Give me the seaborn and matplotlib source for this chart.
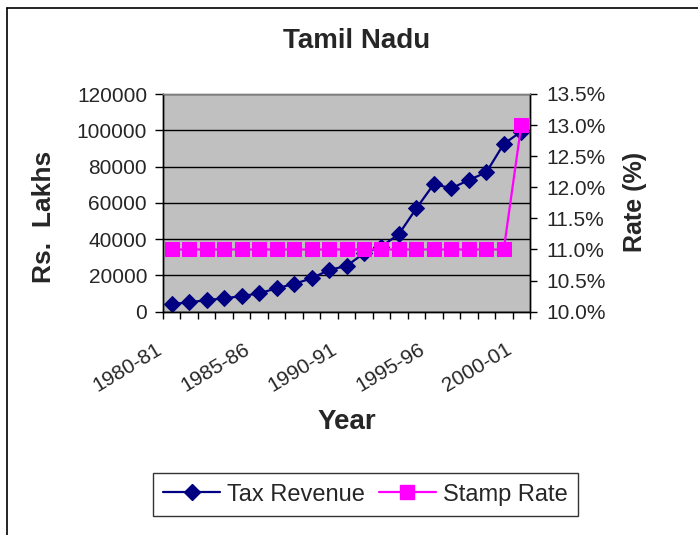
import pandas as pd
import seaborn as sns
import matplotlib.pyplot as plt
from matplotlib.lines import Line2D
from matplotlib.transforms import ScaledTranslation
from matplotlib.ticker import FixedLocator, MultipleLocator, FuncFormatter

years = ['1980-81', '1981-82', '1982-83', '1983-84', '1984-85', '1985-86',
         '1986-87', '1987-88', '1988-89', '1989-90', '1990-91', '1991-92',
         '1992-93', '1993-94', '1994-95', '1995-96', '1996-97', '1997-98',
         '1998-99', '1999-00', '2000-01']
tax_revenue = [4200, 5150, 6400, 7350, 8600, 10100, 12900, 15300, 18400, 23000,
               25200, 32200, 35900, 42800, 57000, 70400, 68000, 72600, 76800,
               92500, 99300]
stamp_rate = [11.0, 11.0, 11.0, 11.0, 11.0, 11.0, 11.0, 11.0, 11.0, 11.0, 11.0,
              11.0, 11.0, 11.0, 11.0, 11.0, 11.0, 11.0, 11.0, 11.0, 13.0]

df = pd.DataFrame({'pos': range(len(years)), 'Year': years,
                   'Tax Revenue': tax_revenue, 'Stamp Rate': stamp_rate})

sns.set_style('white')
plt.rcParams['font.family'] = ['Liberation Sans', 'DejaVu Sans']

fig = plt.figure(figsize=(6.98, 5.35), dpi=100)
ax = fig.add_axes([163/698, 1 - 311.7/535, 367/698, 217.7/535])
ax.set_facecolor('#C0C0C0')

sns.lineplot(data=df, x='pos', y='Tax Revenue', ax=ax, color='#000080',
             marker='D', markersize=8, linewidth=1.6, markeredgecolor='#000080',
             label='Tax Revenue', legend=False)
ax2 = ax.twinx()
sns.lineplot(data=df, x='pos', y='Stamp Rate', ax=ax2, color='#FF00FF',
             marker='s', markersize=9.5, linewidth=1.6, markeredgecolor='#FF00FF',
             label='Stamp Rate', legend=False)

ax.set_xlim(-0.5, len(years) - 0.5)
ax.set_ylim(0, 120000)
ax.yaxis.set_major_locator(MultipleLocator(20000))
ax.grid(axis='y', color='black', linewidth=1)
ax.grid(axis='x', visible=False)
ax.set_axisbelow(True)

ax2.set_ylim(10.0, 13.5)
ax2.yaxis.set_major_locator(MultipleLocator(0.5))
ax2.yaxis.set_major_formatter(FuncFormatter(lambda v, p: f'{v:.1f}%'))
ax2.grid(False)

# category labels every 5th year, ticks between categories
ax.xaxis.set_major_locator(FixedLocator(range(0, len(years), 5)))
ax.set_xticklabels(years[::5])
ax.xaxis.set_minor_locator(FixedLocator([i - 0.5 for i in range(len(years) + 1)]))
ax.tick_params(axis='x', which='major', length=0, pad=20, labelsize=15)
ax.tick_params(axis='x', which='minor', bottom=True, length=5, width=1, color='black', direction='out')
shift = ScaledTranslation(-0.16, 0, fig.dpi_scale_trans)
for lbl in ax.get_xticklabels():
    lbl.set_rotation(31)
    lbl.set_ha('right')
    lbl.set_rotation_mode('anchor')
    lbl.set_transform(lbl.get_transform() + shift)

ax.tick_params(axis='y', left=True, length=6, width=1, color='black',
               direction='out', pad=5.5, labelsize=15)
ax2.tick_params(axis='y', right=True, length=5, width=1, color='black',
                direction='out', pad=7, labelsize=15)

for a in (ax, ax2):
    a.set_xlabel('')
    a.set_ylabel('')
    for side in ('left', 'bottom', 'right'):
        a.spines[side].set_color('black')
        a.spines[side].set_linewidth(1)
    a.spines['top'].set_color('#808080')
    a.spines['top'].set_linewidth(1)

fig.text(357/698, 1 - 41/535, 'Tamil Nadu', ha='center', va='center',
         fontsize=20, fontweight='bold')
fig.text(44/698, 1 - 217/535, 'Rs.  Lakhs', ha='center', va='center',
         rotation=90, fontsize=19, fontweight='bold')
fig.text(635/698, 1 - 202/535, 'Rate (%)', ha='center', va='center',
         rotation=90, fontsize=18, fontweight='bold')
fig.text(347/698, 1 - 422/535, 'Year', ha='center', va='center',
         fontsize=20, fontweight='bold')

handles = [Line2D([], [], color='#000080', marker='D', markersize=8, linewidth=1.6),
           Line2D([], [], color='#FF00FF', marker='s', markersize=9.5, linewidth=1.6)]
leg = fig.legend(handles, ['Tax Revenue', 'Stamp Rate'], loc='center',
                 bbox_to_anchor=(365.5/698, 1 - 494.7/535), ncol=2, fontsize=17,
                 frameon=True, fancybox=False, shadow=False, edgecolor='black',
                 handlelength=2.4, handletextpad=0.3, columnspacing=0.6,
                 borderpad=0.45, borderaxespad=0)
leg.get_frame().set_linewidth(1)

# chart area border
fig.add_artist(Line2D([7/698, 7/698], [0, 1 - 8/535], color='black', linewidth=1.2))
fig.add_artist(Line2D([7/698, 1], [1 - 8/535, 1 - 8/535], color='black', linewidth=1.2))

fig.savefig('out.png', dpi=100)
